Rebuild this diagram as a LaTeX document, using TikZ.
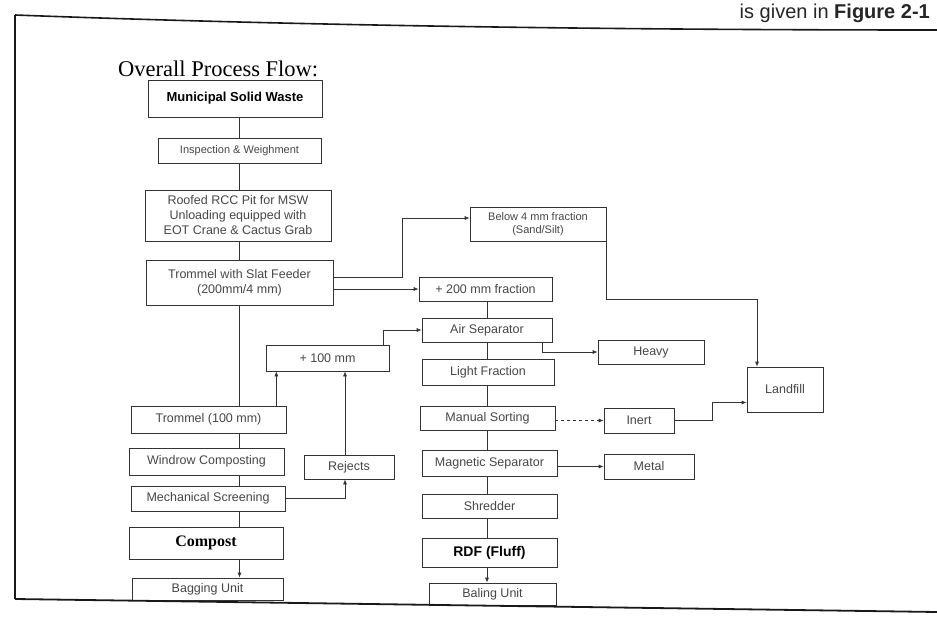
\documentclass[tikz,border=0pt]{standalone}
\usepackage{fontspec}
\setmainfont{Liberation Serif}
\setsansfont{Liberation Sans}
\usetikzlibrary{arrows.meta}

\tikzset{
  stagebox/.style={draw=black!80, line width=0.7pt, inner sep=2pt, align=center,
    text=black!72, font=\sffamily\fontsize{12.5}{15}\selectfont},
  keybox/.style={stagebox, text=black, font=\sffamily\bfseries\fontsize{13}{15}\selectfont},
  link/.style={draw=black!80, line width=0.7pt},
  arr/.style={-{Latex[length=5pt,width=4pt]}},
}

\begin{document}
\begin{tikzpicture}[x=1pt,y=-1pt]
		%%%%% START %%%%%
		\useasboundingbox (0,0) rectangle (937,618);
		\fill[white] (0,0) rectangle (937,618);
		
		% page text at the top
		\node[anchor=base east, inner sep=0, text=black!85, font=\sffamily\fontsize{20}{22}\selectfont] (fighead) at (930,19) {is given in \textbf{Figure 2-1}};
		
		% frame
		\draw[line width=1.6pt, black!90] (15,15) .. controls (200,22) and (500,30) .. (937,30);
		\draw[line width=1.4pt, black!90] (15,15) -- (15,599);
		
		\node[anchor=west, inner sep=0, font=\fontsize{22.5}{25}\selectfont] (title) at (118,69) {Overall Process Flow:};
		
		% left column
		\node[keybox, minimum width=174pt, minimum height=37pt] (msw) at (235,98.5) {Municipal Solid Waste};
		\node[stagebox, minimum width=163pt, minimum height=25pt, font=\sffamily\fontsize{11}{13}\selectfont] (insp) at (239.5,150.5) {Inspection \& Weighment};
		\node[stagebox, minimum width=186pt, minimum height=51pt] (pit) at (238,215.5) {Roofed RCC Pit for MSW\\Unloading equipped with\\EOT Crane \& Cactus Grab};
		\node[stagebox, minimum width=187pt, minimum height=45pt] (trom1) at (239.5,282.5) {Trommel with Slat Feeder\\(200mm/4 mm)};
		\node[stagebox, minimum width=155pt, minimum height=27pt] (trom2) at (208.5,419.5) {Trommel (100 mm)};
		\node[stagebox, minimum width=155pt, minimum height=27pt] (windrow) at (206.5,461.5) {Windrow Composting};
		\node[stagebox, minimum width=154pt, minimum height=25pt] (mech) at (208,498.5) {Mechanical Screening};
		\node[stagebox, minimum width=154pt, minimum height=32pt, text=black, font=\bfseries\fontsize{16}{18}\selectfont] (compost) at (206,543) {Compost};
		\node[stagebox, minimum width=151pt, minimum height=22pt] (bagging) at (207.5,589) {Bagging Unit};
		
		\node[stagebox, minimum width=123pt, minimum height=26pt] (p100) at (327.5,358) {+ 100 mm};
		\node[stagebox, minimum width=90pt, minimum height=24pt] (rejects) at (349,467) {Rejects};
		
		% middle column
		\node[stagebox, minimum width=136pt, minimum height=34pt, font=\sffamily\fontsize{11}{13}\selectfont] (below) at (538,224) {Below 4 mm fraction\\(Sand/Silt)};
		\node[stagebox, minimum width=133pt, minimum height=24pt] (f200) at (485.5,289) {+ 200 mm fraction};
		\node[stagebox, minimum width=130pt, minimum height=24pt] (air) at (487,330) {Air Separator};
		\node[stagebox, minimum width=132pt, minimum height=26pt] (light) at (488,372) {Light Fraction};
		\node[stagebox, minimum width=135pt, minimum height=24pt] (manual) at (487.5,418) {Manual Sorting};
		\node[stagebox, minimum width=135pt, minimum height=26pt] (magsep) at (489.5,463) {Magnetic Separator};
		\node[stagebox, minimum width=135pt, minimum height=24pt] (shred) at (489.5,506) {Shredder};
		\node[keybox, minimum width=135pt, minimum height=29pt, font=\sffamily\bfseries\fontsize{14}{16}\selectfont] (rdf) at (489.5,552.5) {RDF (Fluff)};
		\node[stagebox, minimum width=127pt, minimum height=22pt] (baling) at (492.5,594) {Baling Unit};
		
		% right column
		\node[stagebox, minimum width=106pt, minimum height=24pt] (heavy) at (651,352) {Heavy};
		\node[stagebox, minimum width=70pt, minimum height=25pt] (inert) at (639,420.5) {Inert};
		\node[stagebox, minimum width=90pt, minimum height=25pt] (metal) at (649,466.5) {Metal};
		\node[stagebox, minimum width=76pt, minimum height=45pt] (landfill) at (785,389.5) {Landfill};
		
		% main line
		\draw[link] (msw.south -| insp.north) -- (insp.north);
		\draw[link] (insp.south) -- (insp.south |- pit.north);
		\draw[link] (pit.south -| trom1.north) -- (trom1.north);
		\draw[link] (trom1.south) -- (trom1.south |- trom2.north);
		\draw[link] (trom2.south -| trom1.south) -- (trom1.south |- windrow.north);
		\draw[link] (windrow.south -| trom1.south) -- (trom1.south |- mech.north);
		\draw[link] (mech.south -| trom1.south) -- (trom1.south |- compost.north);
		\draw[link,arr] (compost.south -| trom1.south) -- (trom1.south |- bagging.north);
		
		% screen outputs
		\coordinate (split) at (402,277);
		\draw[link,arr] (trom1.east |- split) -- (split) |- ([yshift=6pt]below.west);
		\draw[link,arr] (trom1.east |- f200.west) -- (f200.west);
		\coordinate (lfbend) at (757,299);
		\draw[link,arr] (below.south east) |- (lfbend) -- (lfbend |- landfill.north);
		
		% 100 mm loop
		\coordinate (t2up) at ([xshift=-10pt]trom2.north east);
		\draw[link,arr] (t2up) -- (t2up |- p100.south);
		\coordinate (rjup) at ([xshift=-4pt]rejects.north);
		\draw[link,arr] (rjup) -- (rjup |- p100.south);
		\draw[link,arr] (mech.east) -| ([xshift=-4pt]rejects.south);
		\coordinate (p100up) at ([xshift=-6pt]p100.north east);
		\draw[link,arr] (p100up) |- (air.west);
		
		% RDF line
		\draw[link] (f200.south -| air.north) -- (air.north);
		\draw[link] (air.south) -- (air.south |- light.north);
		\draw[link,arr] ([xshift=-10pt]air.south east) |- (heavy.west);
		\draw[link] (light.south -| air.south) -- (air.south |- manual.north);
		\draw[link] (manual.south -| air.south) -- (air.south |- magsep.north);
		\draw[link] (magsep.south -| air.south) -- (air.south |- shred.north);
		\draw[link] (shred.south -| air.south) -- (air.south |- rdf.north);
		\draw[link,arr] (rdf.south -| air.south) -- (air.south |- baling.north);
		\draw[link,arr,dashed] (manual.east |- inert.west) -- (inert.west);
		\draw[link,arr] (magsep.east |- metal.west) -- (metal.west);
		\draw[link,arr] (inert.east) -- ++(38,0) |- ([yshift=-13pt]landfill.west);
		
		% bottom of frame
		\draw[line width=1.8pt, black!90] (15,599) -- (937,612);
		%%%%% END %%%%%
\end{tikzpicture}
\end{document}
